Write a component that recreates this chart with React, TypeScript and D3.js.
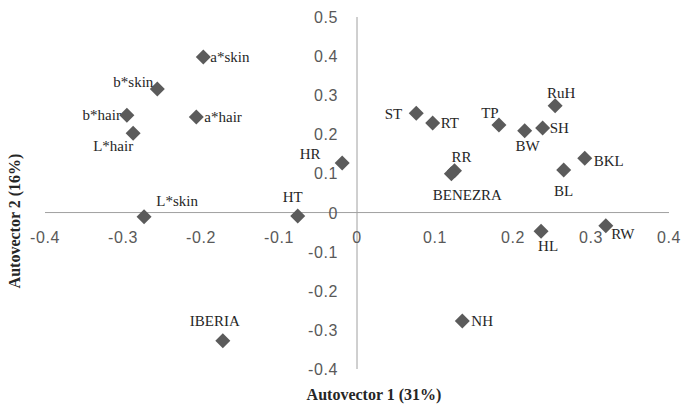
import React from 'react';
import { scaleLinear, range } from 'd3';

const labels = ['a*skin', 'b*skin', 'b*hair', 'L*hair', 'a*hair', 'HR', 'L*skin', 'HT', 'IBERIA',
  'ST', 'RT', 'TP', 'BW', 'SH', 'RuH', 'BKL', 'BL', 'RR', 'BENEZRA', 'HL', 'RW', 'NH'];
const xValues = [-0.197, -0.256, -0.295, -0.287, -0.206, -0.019, -0.273, -0.076, -0.172,
  0.076, 0.097, 0.182, 0.215, 0.238, 0.254, 0.292, 0.265, 0.125, 0.121, 0.236, 0.319, 0.135];
const yValues = [0.398, 0.316, 0.249, 0.203, 0.244, 0.127, -0.011, -0.009, -0.328,
  0.254, 0.229, 0.224, 0.209, 0.216, 0.273, 0.139, 0.109, 0.107, 0.099, -0.048, -0.034, -0.277];
const xTicks = range(-4, 5).map(d => d / 10);
const yTicks = range(-4, 6).map(d => d / 10);

// where each data label sits relative to its marker
const place: Record<string, [number, number, string]> = {
  'a*skin': [7, 0, 'start'], 'b*skin': [-4, -7, 'end'], 'b*hair': [-6, 0, 'end'],
  'L*hair': [-20, 13, 'middle'], 'a*hair': [8, 0, 'start'], HR: [-32, -9, 'middle'],
  'L*skin': [33, -16, 'middle'], HT: [-5, -19, 'middle'], IBERIA: [-8, -20, 'middle'],
  ST: [-14, 1, 'end'], RT: [8, 0, 'start'], TP: [-9, -12, 'middle'], BW: [3, 15, 'middle'],
  SH: [7, 0, 'start'], RuH: [6, -13, 'middle'], BKL: [9, 3, 'start'], BL: [0, 21, 'middle'],
  RR: [7, -14, 'middle'], BENEZRA: [16, 21, 'middle'], HL: [7, 15, 'middle'],
  RW: [17, 8, 'middle'], NH: [9, 0, 'start'],
};

const x = scaleLinear().domain([-0.4, 0.4]).range([45, 669]);
const y = scaleLinear().domain([-0.4, 0.5]).range([369, 17]);

const App = () => {
  const tickFont = { fontFamily: 'Liberation Sans, Arial, sans-serif', fontSize: 16, letterSpacing: 0.6, fill: '#595959' };
  return (
    <svg width={688} height={408} style={{ position: 'absolute', left: 0, top: 0, background: '#fff' }}>
      <line x1={x(-0.4)} x2={x(0.4)} y1={y(0)} y2={y(0)} stroke="#a0a0a0" strokeWidth={1} />
      <line x1={x(0)} x2={x(0)} y1={y(0.5)} y2={y(-0.4)} stroke="#a0a0a0" strokeWidth={1} />
      {xTicks.map(t => (
        <text key={'x' + t} x={x(t)} y={y(0) + 30} textAnchor="middle" {...tickFont}>{t === 0 ? '0' : t.toFixed(1)}</text>
      ))}
      {yTicks.map(t => (
        <text key={'y' + t} x={x(0) - 19} y={y(t) + 6} textAnchor="end" {...tickFont}>{t === 0 ? '0' : t.toFixed(1)}</text>
      ))}
      {labels.map((name, i) => {
        const cx = x(xValues[i]);
        const cy = y(yValues[i]);
        return (
          <path key={'m' + name} d={`M${cx},${cy - 7.5}L${cx + 7.5},${cy}L${cx},${cy + 7.5}L${cx - 7.5},${cy}Z`} fill="#5b5b5b" />
        );
      })}
      {labels.map((name, i) => {
        const [dx, dy, anchor] = place[name];
        return (
          <text key={'l' + name} x={x(xValues[i]) + dx} y={y(yValues[i]) + dy + 5} textAnchor={anchor as any}
            fontFamily="Liberation Serif, Times New Roman, serif" fontSize={15} fill="#262626">{name}</text>
        );
      })}
      <text x={374} y={400} textAnchor="middle" fontFamily="Liberation Serif, serif" fontWeight="bold" fontSize={16} fill="#262626">Autovector 1 (31%)</text>
      <text transform="translate(20,221) rotate(-90)" textAnchor="middle" fontFamily="Liberation Serif, serif" fontWeight="bold" fontSize={16} fill="#262626">Autovector 2 (16%)</text>
    </svg>
  );
};

export default App;
